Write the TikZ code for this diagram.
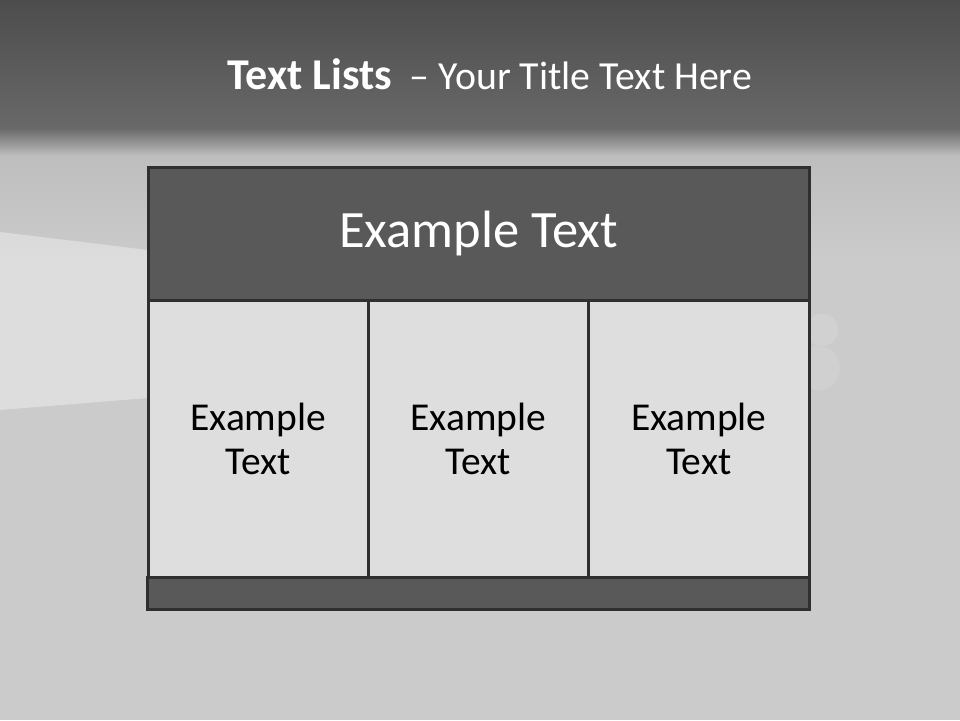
\documentclass[tikz,border=0pt]{standalone}
\usepackage{fontspec}
\setmainfont{Carlito}
\usepackage{tikz}
\usetikzlibrary{positioning}

\definecolor{bandtop}{HTML}{4D4D4D}
\definecolor{bandbot}{HTML}{686868}
\definecolor{bgtop}{HTML}{BEBEBE}
\definecolor{bglow}{HTML}{CBCBCB}
\definecolor{edge}{HTML}{2F2F2F}
\definecolor{boxdark}{HTML}{595959}
\definecolor{boxlight}{HTML}{DEDEDE}

\begin{document}
\begin{tikzpicture}[x=1pt,y=-1pt,
  frame/.style={draw=edge,line width=3pt,inner sep=0pt,outer sep=0pt},
  hdr/.style={frame,fill=boxdark,minimum width=661pt,minimum height=133pt,
    text=white,font=\fontsize{52.5}{60}\selectfont},
  cell/.style={frame,fill=boxlight,minimum width=220.33pt,minimum height=277pt,
    align=center,font=\fontsize{39.5}{44}\selectfont},
  foot/.style={frame,fill=boxdark,minimum width=661pt,minimum height=32pt},
  title/.style={text=white,font=\fontsize{39.8}{48}\selectfont}
]
  % background
  \useasboundingbox (0,0) rectangle (960,720);
  \shade[top color=bandtop,bottom color=bandbot] (0,0) rectangle (960,128);
  \shade[top color=bandbot,bottom color=bgtop] (0,128) rectangle (960,156);
  \shade[top color=bgtop,bottom color=bglow] (0,156) rectangle (960,260);
  \fill[bglow] (0,260) rectangle (960,720);
  \fill[white,opacity=0.35] (0,232) -- (148,250) -- (148,398) -- (0,410) -- cycle;
  \fill[white,opacity=0.12] (822,330) circle (16pt);
  \fill[white,opacity=0.1] (818,368) circle (22pt);

  % title
  \node[title] (ttl) at (490,74)
    {{\fontsize{44}{48}\selectfont\bfseries Text Lists}\hspace{0.45em}– Your Title Text Here};

  % table
  \node[hdr] (hdr) at (478.5,233.5) {Example Text};
  \node[cell,anchor=north west] (c1) at (hdr.south west) {Example\\Text};
  \node[cell,right=0pt of c1] (c2) {Example\\Text};
  \node[cell,right=0pt of c2] (c3) {Example\\Text};
  \node[foot,below=0pt of c2] (ft) {};
\end{tikzpicture}
\end{document}
